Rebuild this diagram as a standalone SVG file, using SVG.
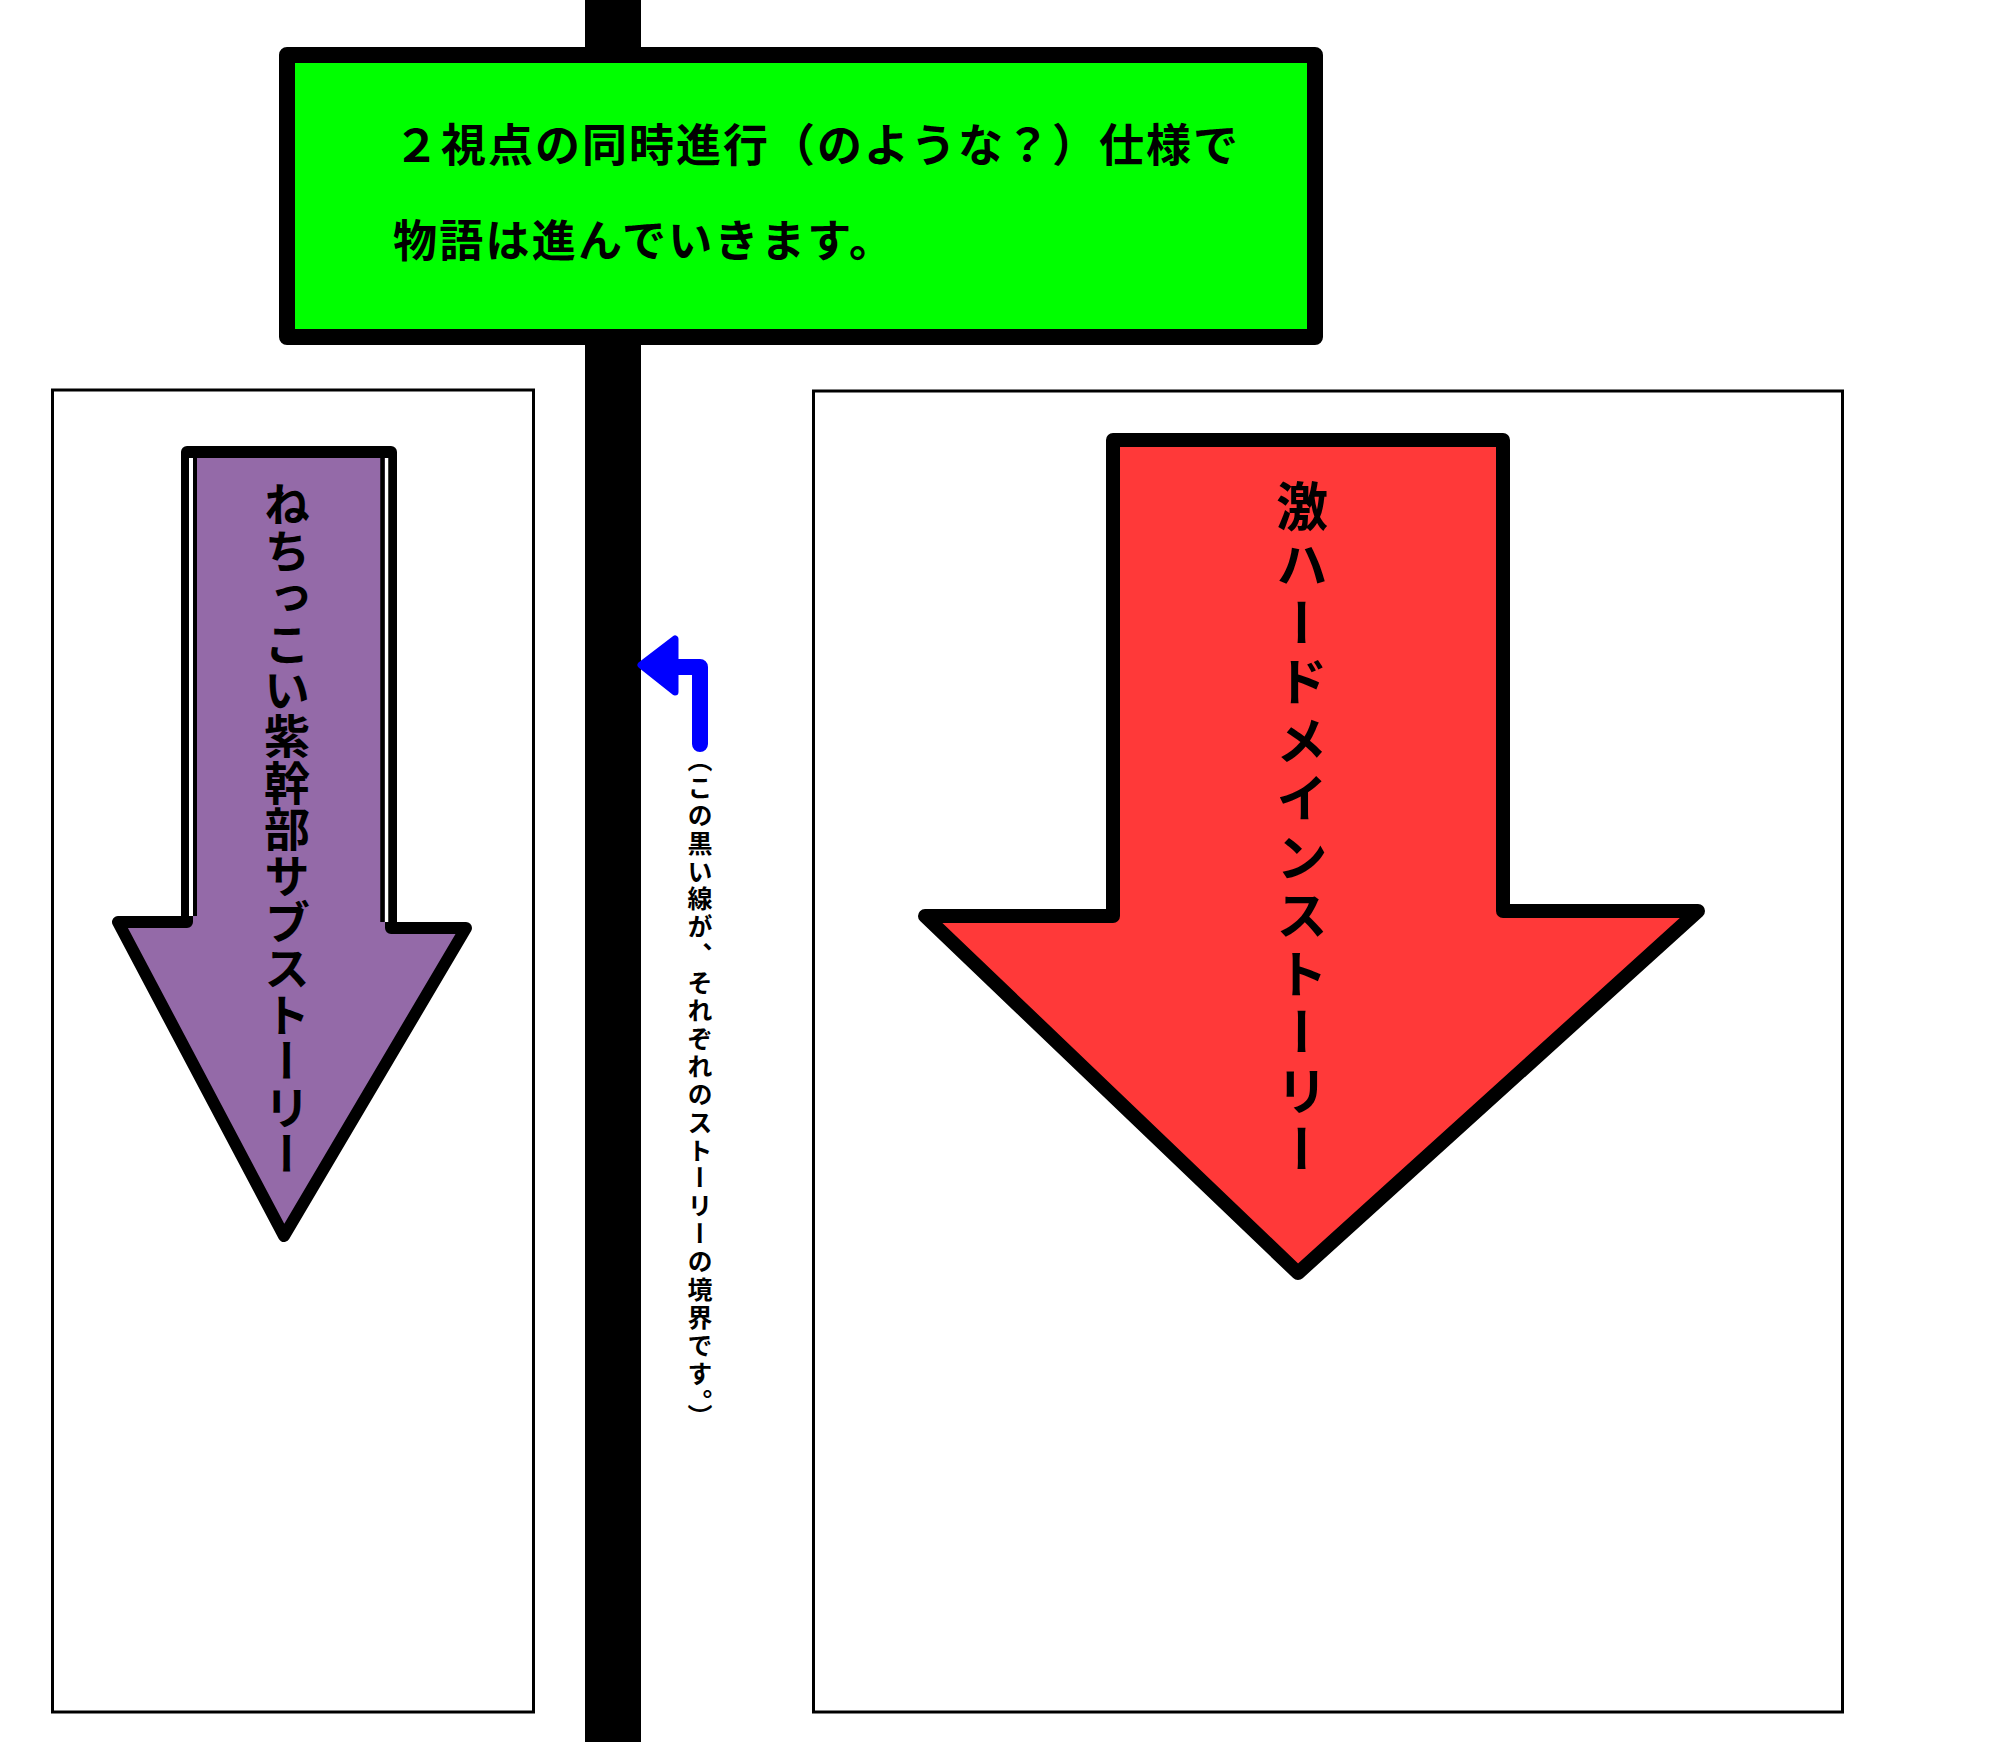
<svg xmlns="http://www.w3.org/2000/svg" width="2000" height="1742" viewBox="0 0 2000 1742">
<style>
  .panel{fill:#ffffff;stroke:#000000;stroke-width:3}
  .big{stroke:#000000;stroke-linejoin:round;stroke-linecap:round}
  .jp{font-family:"Noto Sans CJK JP","Noto Sans CJK SC",sans-serif;font-weight:bold;fill:#000000}
  .vt{writing-mode:vertical-rl;text-orientation:mixed}
</style>
<rect x="0" y="0" width="2000" height="1742" fill="#ffffff"/>

<g id="connectors">
  <rect id="boundary-line" x="585" y="0" width="56" height="1742" fill="#000000"/>
  <g id="blue-pointer">
    <path d="M700,744 L700,667 L674,667" fill="none" stroke="#0000ff" stroke-width="16" stroke-linecap="round" stroke-linejoin="round"/>
    <polygon points="641,665 675,639 675,692" fill="#0000ff" stroke="#0000ff" stroke-width="7" stroke-linejoin="round"/>
  </g>
</g>

<g id="title">
  <rect x="287" y="55" width="1028" height="282" fill="#00ff00" stroke="#000000" stroke-width="16" stroke-linejoin="round"/>
  <text class="jp" x="394" y="162" font-size="45" textLength="844" lengthAdjust="spacing">２視点の同時進行（のような？）仕様で</text>
  <text class="jp" x="393" y="257" font-size="44" textLength="500" lengthAdjust="spacing">物語は進んでいきます。</text>
</g>

<g id="sub-story">
  <rect class="panel" x="52.5" y="390" width="481" height="1322"/>
  <polygon class="big" points="187,452 391,452 391,928 466,928 284,1236 118,922 187,922" fill="#946aa8" stroke-width="12"/>
  <line x1="191" y1="458" x2="191" y2="916" stroke="#ffffff" stroke-width="4"/>
  <line x1="195" y1="458" x2="195" y2="916" stroke="#000000" stroke-width="4"/>
  <line x1="386.5" y1="458" x2="386.5" y2="922" stroke="#ffffff" stroke-width="3.5"/>
  <line x1="382.5" y1="458" x2="382.5" y2="922" stroke="#000000" stroke-width="4.5"/>
  <text class="jp vt" x="287" y="481" font-size="46" letter-spacing="0.4">ねちっこい紫幹部サブストーリー</text>
</g>

<g id="main-story">
  <rect class="panel" x="813.5" y="391" width="1029" height="1321"/>
  <polygon class="big" points="1113,440 1503,440 1503,911 1698,911 1298,1273 925,916 1113,916" fill="#ff3939" stroke-width="14"/>
  <text class="jp vt" x="1302" y="480" font-size="52" letter-spacing="6.5">激ハードメインストーリー</text>
</g>

<g id="note">
  <text class="jp vt" x="700" y="747" font-size="25" letter-spacing="2.9">（この黒い線が、それぞれのストーリーの境界です。）</text>
</g>
</svg>
